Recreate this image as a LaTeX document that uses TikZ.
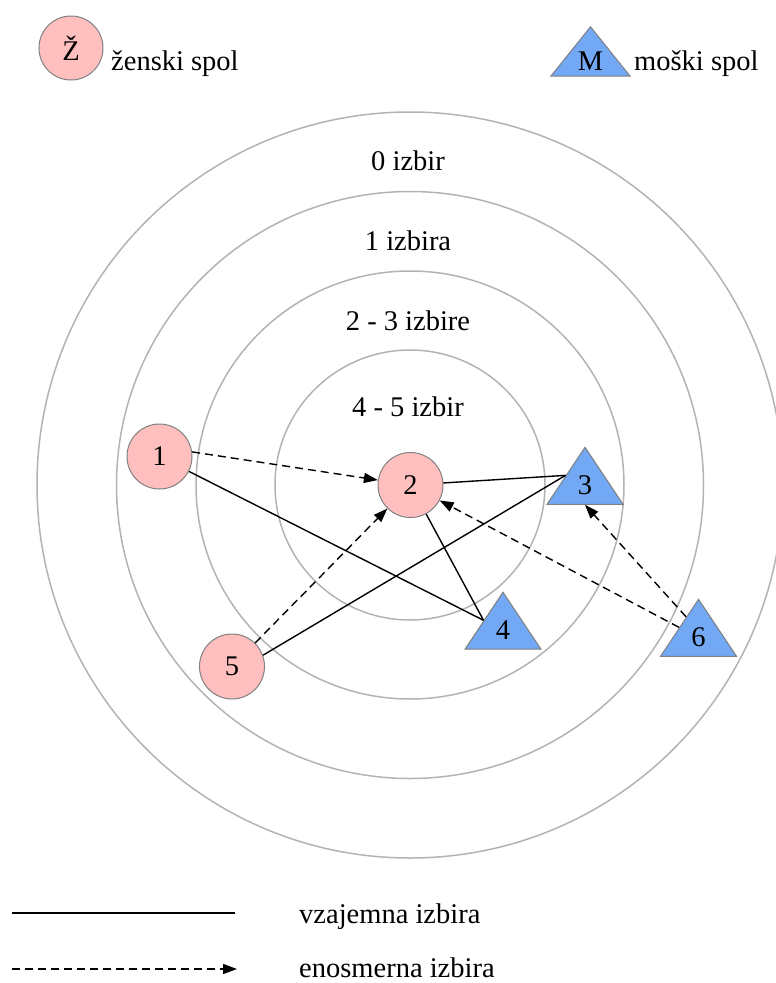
\documentclass[tikz,border=0pt]{standalone}
\usepackage{fontspec}
\setmainfont{Liberation Serif}
\usetikzlibrary{shapes.geometric,arrows.meta,calc}
\definecolor{ringgray}{HTML}{B3B3B3}
\definecolor{fpink}{HTML}{FFBFBF}
\definecolor{mblue}{HTML}{72A8F4}
\definecolor{outline}{HTML}{808080}
\begin{document}
\begin{tikzpicture}[x=1pt,y=-1pt,
  every node/.style={font=\fontsize{28.5}{34}\selectfont},
  ring/.style={draw=ringgray, line width=1.5pt},
  female/.style={circle, draw=outline, fill=fpink, minimum size=65pt, inner sep=0pt, line width=1pt},
  male/.style={isosceles triangle, isosceles triangle stretches, shape border rotate=90,
    draw=outline, fill=mblue, minimum width=76pt, minimum height=57pt, inner sep=0pt, line width=1pt},
  mutual/.style={draw=black, line width=1.4pt},
  oneway/.style={draw=black, line width=1.4pt, dash pattern=on 8pt off 5pt,
    -{Triangle[length=14pt,width=10pt]}},
  lbl/.style={inner sep=0pt},
]
\useasboundingbox (0,0) rectangle (776,983);
\coordinate (c) at (410,485);
\draw[ring] (c) circle[radius=373];
\draw[ring] (c) circle[radius=293.5];
\draw[ring] (c) circle[radius=214];
\draw[ring] (c) circle[radius=135];

\node[lbl] (r0) at (408,161) {0 izbir};
\node[lbl] (r1) at (408,241) {1 izbira};
\node[lbl] (r2) at (408,321) {2 - 3 izbire};
\node[lbl] (r3) at (408,407) {4 - 5 izbir};

% legend top
\node[female, minimum size=64pt] (lf) at (71,48) {Ž};
\node[lbl, anchor=base west] (lft) at (111,70) {ženski spol};
\node[male, minimum width=79pt, minimum height=48pt] (lm) at (590.5,61) {M};
\node[lbl, anchor=base west] (lmt) at (634,70) {moški spol};

% persons
\node[female] (n1) at (159.5,456.5) {1};
\node[female] (n2) at (410.5,485) {2};
\node[female] (n5) at (232,666.5) {5};
\node[male] (t3) at (585,485) {3};
\node[male] (t4) at (503,630) {4};
\node[male] (t6) at (698.5,637) {6};

\coordinate (t6s) at ($(t6.left corner)!0.68!(t6.apex)$);

\draw[mutual] (n1) -- (t4.left side);
\draw[mutual] (n2) -- (t4.left side);
\draw[mutual] (n2) -- (t3.left side);
\draw[mutual] (n5.20) -- (t3.left side);
\draw[oneway] (n1.8) -- (n2);
\draw[oneway] (n5) -- (n2);
\draw[oneway] (t6.left side) -- (n2);
\draw[oneway] (t6s) -- (t3.lower side);

% legend bottom
\coordinate (s1) at (12,913);
\coordinate (s2) at (235,913);
\coordinate (d1) at (12,969);
\coordinate (d2) at (237,969);
\draw[mutual] (s1) -- (s2);
\draw[oneway] (d1) -- (d2);
\node[lbl, anchor=base west] (ls) at (299,923) {vzajemna izbira};
\node[lbl, anchor=base west] (ld) at (299,977) {enosmerna izbira};
\end{tikzpicture}
\end{document}
